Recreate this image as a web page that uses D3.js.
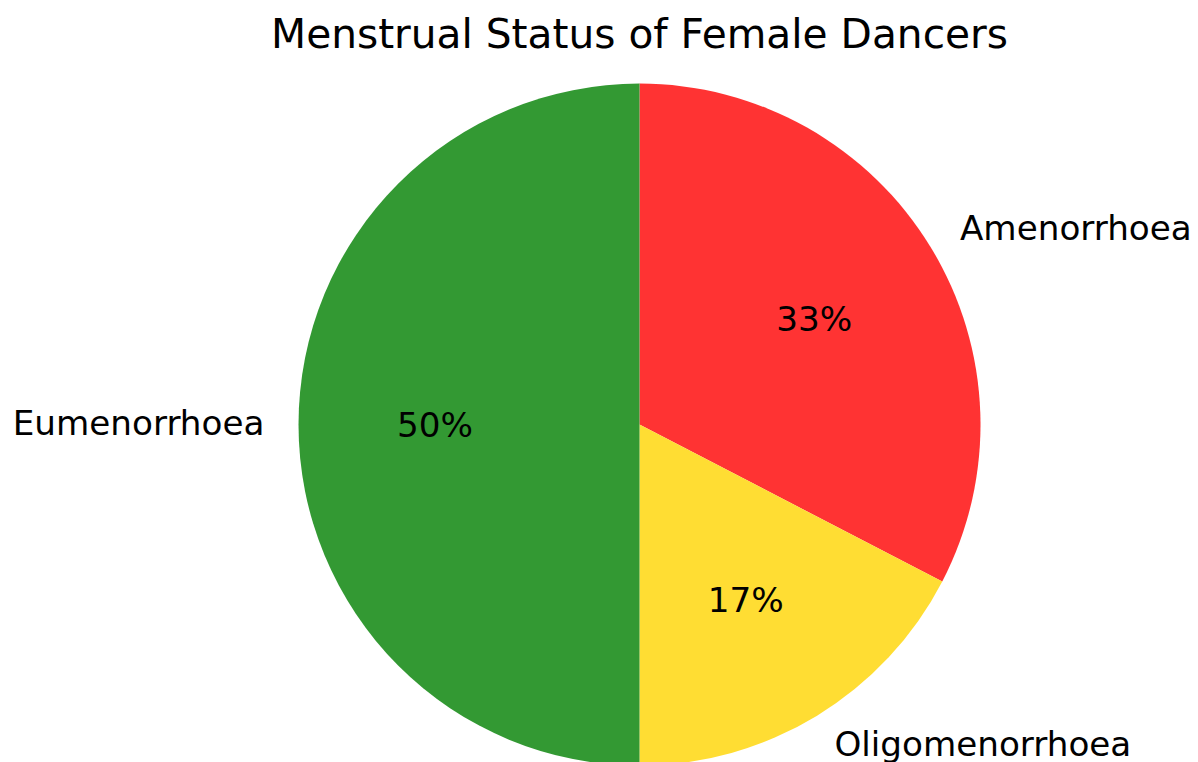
<!DOCTYPE html>
<html>
<head>
<meta charset="utf-8">
<script src="https://cdn.jsdelivr.net/npm/d3@7"></script>
<style>
  body { margin: 0; background: #fff; }
  text { font-family: "DejaVu Sans", sans-serif; fill: #000; }
  .title { font-size: 40.7px; }
  .slice-label { font-size: 34.2px; }
  .pct-label { font-size: 34.2px; }
</style>
</head>
<body>
<div id="chart"></div>
<script>
/* Data ***********************************************************************/

var categories = ['Amenorrhoea', 'Oligomenorrhoea', 'Eumenorrhoea'],
    counts = [15, 8, 23],
    colours = ['#ff3333', '#ffdd33', '#339933'],
    title = 'Menstrual Status of Female Dancers';

/* Plot ***********************************************************************/

function build_pie()
{
    let width = 1198,
        height = 762,
        cx = 639.5,
        cy = 424.6,
        radius = 341,
        label_dist = 1.1,
        pct_dist = 0.6;

    let svg = d3.select('#chart').append('svg')
        .attr('width', width)
        .attr('height', height);

    let rows = categories.map((c, i) => ({ name: c, value: counts[i], colour: colours[i] })),
        total = d3.sum(counts);

    // clockwise from 12 o'clock, keep given order
    let pie = d3.pie().sort(null).value(d => d.value),
        arc = d3.arc().innerRadius(0).outerRadius(radius),
        arcs = pie(rows);

    let g = svg.append('g')
        .attr('transform', `translate(${cx},${cy})`);

    // wedges
    g.selectAll('path').data(arcs).enter()
        .append('path')
        .attr('d', arc)
        .attr('fill', d => d.data.colour);

    let mid = d => (d.startAngle + d.endAngle) / 2,
        px = (d, k) => Math.sin(mid(d)) * radius * k,
        py = (d, k) => -Math.cos(mid(d)) * radius * k;

    // category labels outside
    g.selectAll('text.slice-label').data(arcs).enter()
        .append('text')
        .attr('class', 'slice-label')
        .attr('x', d => px(d, label_dist))
        .attr('y', d => py(d, label_dist))
        .attr('dy', '0.31em')
        .attr('text-anchor', d => px(d, 1) >= 0 ? 'start' : 'end')
        .text(d => d.data.name);

    // percentages inside
    g.selectAll('text.pct-label').data(arcs).enter()
        .append('text')
        .attr('class', 'pct-label')
        .attr('x', d => px(d, pct_dist))
        .attr('y', d => py(d, pct_dist))
        .attr('dy', '0.36em')
        .attr('text-anchor', 'middle')
        .text(d => `${Math.round(100 * d.data.value / total)}%`);

    // title
    svg.append('text')
        .attr('class', 'title')
        .attr('x', cx)
        .attr('y', 48)
        .attr('text-anchor', 'middle')
        .text(title);
}

build_pie();
</script>
</body>
</html>
